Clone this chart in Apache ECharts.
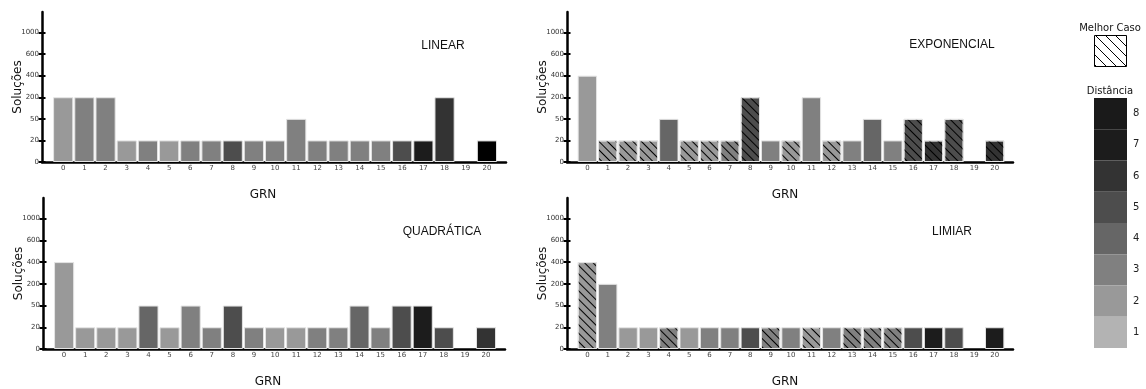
<!DOCTYPE html>
<html><head><meta charset="utf-8">
<script src="https://cdn.jsdelivr.net/npm/echarts@6/dist/echarts.min.js"></script>
<style>html,body{margin:0;padding:0;background:#fff}#c{width:1146px;height:389px}</style>
</head><body><div id="c"></div>
<script>
// ---- data ----
const grn = [0,1,2,3,4,5,6,7,8,9,10,11,12,13,14,15,16,17,18,19,20];
const yTickValues = [0,20,50,200,400,600,1000];
const panelTitles = ['LINEAR','EXPONENCIAL','QUADRÁTICA','LIMIAR'];

const linearValues = [200,200,200,20,20,20,20,20,20,20,20,50,20,20,20,20,20,20,200,0,20];
const linearDist   = [2,3,3,2,3,2,3,3,5,3,3,3,3,3,3,3,5,7,6,0,9];
const linearBest   = [0,0,0,0,0,0,0,0,0,0,0,0,0,0,0,0,0,0,0,0,0];

const expValues = [400,20,20,20,50,20,20,20,200,20,20,200,20,20,50,20,50,20,50,0,20];
const expDist   = [2,2,2,2,4,2,2,3,5,3,2,3,2,3,4,3,5,6,5,0,6];
const expBest   = [0,1,1,1,0,1,1,1,1,0,1,0,1,0,0,0,1,1,1,0,1];

const quadValues = [400,20,20,20,50,20,50,20,50,20,20,20,20,20,50,20,50,50,20,0,20];
const quadDist   = [2,2,2,2,4,2,3,3,5,3,2,2,3,3,4,3,5,7,5,0,6];
const quadBest   = [0,0,0,0,0,0,0,0,0,0,0,0,0,0,0,0,0,0,0,0,0];

const limValues = [400,200,20,20,20,20,20,20,20,20,20,20,20,20,20,20,20,20,20,0,20];
const limDist   = [2,3,2,2,3,2,3,3,5,3,3,2,3,3,3,3,5,7,5,0,7];
const limBest   = [1,0,0,0,1,0,0,0,0,1,0,1,0,1,1,1,0,0,0,0,0];

const distanceLevels = [1,2,3,4,5,6,7,8];
const distanceColors = ['#b3b3b3','#999999','#808080','#666666','#4d4d4d','#333333','#1c1c1c','#1a1a1a'];

// ---- layout ----
const FONT = 'DejaVu Sans';
const panels = [
  {values: linearValues, dist: linearDist, best: linearBest, grid:{left:42, top:12, width:464, height:150}, barW:20.2, title:[443,46], nameShift:22},
  {values: expValues, dist: expDist, best: expBest, grid:{left:567, top:12, width:446, height:150}, barW:19.4, title:[952,45], nameShift:10},
  {values: quadValues, dist: quadDist, best: quadBest, grid:{left:43, top:198, width:462, height:152}, barW:20.1, title:[442,232], nameShift:12},
  {values: limValues, dist: limDist, best: limBest, grid:{left:567, top:198, width:446, height:152}, barW:19.4, title:[952,232], nameShift:10}
];

const hatchDecal = {symbol:'rect', symbolSize:1, dashArrayX:[1,0], dashArrayY:[1,4.2], rotation:Math.PI/4, color:'#000'};
const tickIdx = yTickValues.map((v,i)=>i);

const grids = [], xAxes = [], yAxes = [], series = [], graphics = [];
panels.forEach((p, i) => {
  grids.push(p.grid);
  xAxes.push({
    type:'value', gridIndex:i, min:-1, max:20.9, interval:1,
    axisLine:{show:true, onZero:false, lineStyle:{color:'#000', width:2.5}},
    axisTick:{show:false}, splitLine:{show:false},
    axisLabel:{customValues:grn, formatter:v=>String(v), fontSize:7, color:'#444', margin:3, fontFamily:FONT},
    name:'GRN', nameLocation:'middle', nameGap:27, nameMoveOverlap:false,
    nameTextStyle:{fontSize:12, color:'#111', fontFamily:FONT, padding:[0,p.nameShift,0,0]}
  });
  yAxes.push({
    type:'value', gridIndex:i, min:0, max:6.95, interval:1,
    axisLine:{show:true, onZero:false, lineStyle:{color:'#000', width:2.5}},
    axisTick:{show:true, length:3.5, customValues:tickIdx, lineStyle:{color:'#000', width:2}},
    splitLine:{show:false},
    axisLabel:{customValues:tickIdx, formatter:v=>Number.isInteger(v)?String(yTickValues[v]):'', fontSize:7, color:'#333', margin:3, fontFamily:FONT},
    name:'Soluções', nameLocation:'middle', nameGap:18, nameMoveOverlap:false,
    nameTextStyle:{fontSize:12, color:'#111', fontFamily:FONT}
  });
  yAxes.push({
    type:'value', gridIndex:i, min:0, max:6.95, interval:1, position:'left',
    axisLine:{show:false, onZero:false},
    axisTick:{show:true, inside:true, length:3.5, customValues:tickIdx, lineStyle:{color:'#000', width:2}},
    splitLine:{show:false}, axisLabel:{show:false}
  });
  const data = [];
  grn.forEach((g, k) => {
    if (!p.values[k]) return;
    const item = {value:[g, yTickValues.indexOf(p.values[k]), p.dist[k]]};
    if (p.best[k]) item.itemStyle = {decal: hatchDecal};
    data.push(item);
  });
  series.push({
    type:'bar', xAxisIndex:i, yAxisIndex:2*i, barWidth:p.barW,
    encode:{x:0, y:1},
    itemStyle:{borderColor:'#e4e4e4', borderWidth:1},
    data, silent:true, animation:false
  });
  graphics.push({type:'text', x:p.title[0], y:p.title[1], style:{text:panelTitles[i], fontSize:12, fill:'#111', font:'12px "DejaVu Sans"', textAlign:'center', textVerticalAlign:'middle'}});
});

// hatch pattern for legend box
const pc = document.createElement('canvas');
pc.width = 10; pc.height = 10;
const ctx = pc.getContext('2d');
ctx.strokeStyle = '#000'; ctx.lineWidth = 1;
ctx.beginPath();
ctx.moveTo(-1,-1); ctx.lineTo(11,11);
ctx.moveTo(-1,9); ctx.lineTo(1,11);
ctx.moveTo(9,-1); ctx.lineTo(11,1);
ctx.stroke();

graphics.push({type:'text', x:1110, y:28, style:{text:'Melhor Caso', font:'10px "DejaVu Sans"', fill:'#111', textAlign:'center', textVerticalAlign:'middle'}});
graphics.push({type:'rect', shape:{x:1094.5, y:35.5, width:32, height:31}, style:{fill:{image:pc, repeat:'repeat'}, stroke:'#000', lineWidth:1}});
graphics.push({type:'text', x:1110, y:91, style:{text:'Distância', font:'10px "DejaVu Sans"', fill:'#111', textAlign:'center', textVerticalAlign:'middle'}});

const chart = echarts.init(document.getElementById('c'), null, {renderer:'canvas'});
chart.setOption({
  animation:false,
  backgroundColor:'#fff',
  grid: grids, xAxis: xAxes, yAxis: yAxes, series,
  visualMap: [{
    type:'piecewise', dimension:2, seriesIndex:[0,1,2,3],
    pieces: distanceLevels.map((d,i)=>({value:d, label:String(d), color:distanceColors[i]})),
    outOfRange:{color:'#000'},
    orient:'vertical', itemWidth:33, itemHeight:31.25, itemGap:0, itemSymbol:'rect',
    left:1094, top:98, padding:0, textGap:6, align:'left', hoverLink:false,
    textStyle:{fontSize:10, color:'#222', fontFamily:FONT}
  }],
  graphic: graphics
});
</script></body></html>
